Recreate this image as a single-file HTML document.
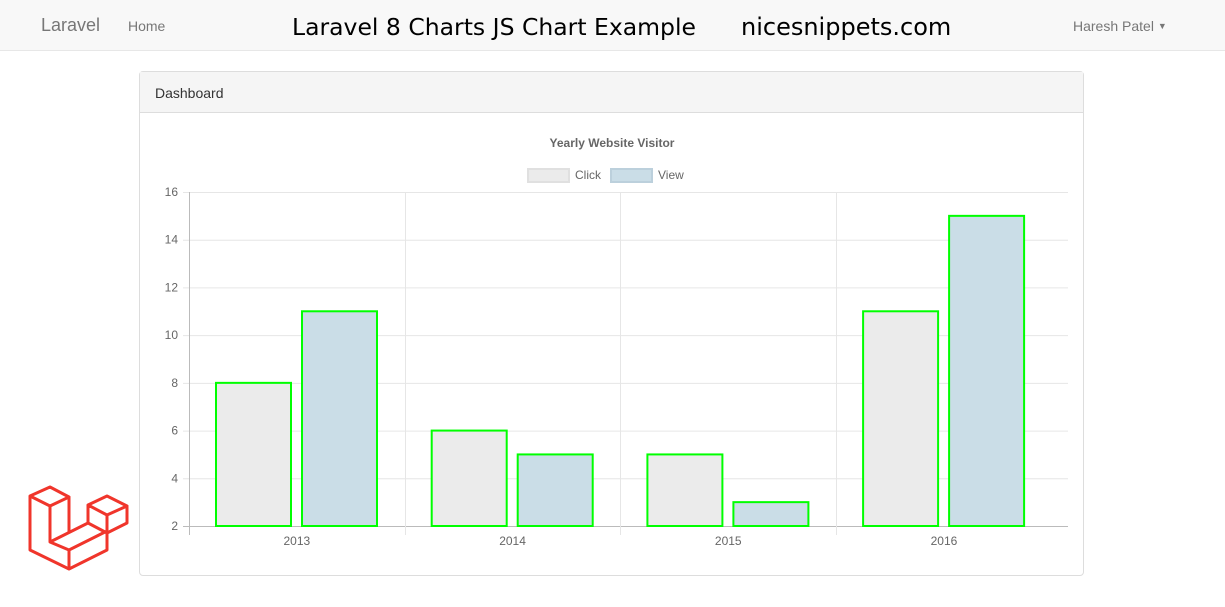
<!DOCTYPE html>
<html><head><meta charset="utf-8"><style>
body{margin:0;width:1225px;height:607px;background:#fff;font-family:"Liberation Sans",sans-serif;position:relative;overflow:hidden}
.nav{position:absolute;left:0;top:0;width:1225px;height:50px;background:#f8f8f8;border-bottom:1px solid #e7e7e7}
.nav span{position:absolute;color:#777}
.panel{position:absolute;left:139px;top:71px;width:943px;height:503px;border:1px solid #ddd;border-radius:4px}
.ph{height:40px;background:#f5f5f5;border-bottom:1px solid #ddd;font-size:14px;color:#333;line-height:42px;padding-left:15px}
</style></head><body>
<div class="nav">
<span style="left:41px;top:15px;font-size:18px">Laravel</span>
<span style="left:128px;top:18px;font-size:14px">Home</span>
<span style="left:292px;top:13px;font-size:23.5px;color:#000;font-family:'DejaVu Sans',sans-serif;white-space:nowrap">Laravel 8 Charts JS Chart Example</span>
<span style="left:741px;top:13px;font-size:24px;color:#000;font-family:'DejaVu Sans',sans-serif">nicesnippets.com</span>
<span style="left:1073px;top:18px;font-size:14px">Haresh Patel <span style="position:relative;font-size:9px;top:-2px;left:0">▼</span></span>
</div>
<div class="panel"><div class="ph">Dashboard</div></div>
<svg width="1225" height="607" style="position:absolute;left:0;top:0" id="chart">
<g fill="none" stroke="#f0352b" stroke-width="3" stroke-linejoin="round">
<path d="M30,496 L50,487 L69,497 L50,506 Z M30,496 L30,550 L69,569 L107,550 L107,531 M50,506 L50,542 L69,550 L107,531 M69,550 L69,569 M50,542 L88,523 M69,497 L69,532 M88,505 L107,496 L127,506 L107,515 Z M88,505 L88,523 L107,533 L127,523 L127,506 M107,515 L107,533"/>
</g>
</svg>
<script>
const categories=["2013","2014","2015","2016"];
const clickVals=[8,6,5,11];
const viewVals=[11,5,3,15];
const yTicks=[2,4,6,8,10,12,14,16];
const svg=document.getElementById('chart');const NS='http://www.w3.org/2000/svg';
const L=189,R=1068,T=192,B=526,ymin=2,ymax=16,CW=215.7;
const y=v=>B-(v-ymin)/(ymax-ymin)*(B-T);
const x=i=>L+i*CW;
function mk(t,a,txt){const e=document.createElementNS(NS,t);for(const k in a)e.setAttribute(k,a[k]);if(txt!==undefined)e.textContent=txt;svg.appendChild(e);return e;}
let e=mk('text',{x:612,y:147,'text-anchor':'middle','font-size':12,'font-weight':'bold',fill:'#666'},'Yearly Website Visitor');


e=mk('rect',{x:528,y:169,width:41,height:13,fill:'#ebebeb',stroke:'#e0e0e0','stroke-width':2});


e=mk('text',{x:575,y:179,'font-size':12,fill:'#666'},'Click');


e=mk('rect',{x:611,y:169,width:41,height:13,fill:'#cadde7',stroke:'#bcd0dc','stroke-width':2});


e=mk('text',{x:658,y:179,'font-size':12,fill:'#666'},'View');


yTicks.forEach(v=>{e=mk('line',{x1:L-6,x2:R,y1:y(v)+.5,y2:y(v)+.5,stroke:v===ymin?'#bbb':'#e6e6e6'});


e=mk('text',{x:178,y:y(v)+4,'text-anchor':'end','font-size':12,fill:'#666'},v);

});
for(let i=0;i<categories.length;i++){e=mk('line',{x1:Math.round(x(i))+.5,x2:Math.round(x(i))+.5,y1:T,y2:B+9,stroke:i===0?'#bbb':'#e6e6e6'});

}
categories.forEach((c,i)=>{
e=mk('text',{x:x(i)+CW/2,y:545,'text-anchor':'middle','font-size':12,fill:'#666'},c);


const bw=75;
e=mk('rect',{x:x(i)+27,y:y(clickVals[i]),width:bw,height:B-y(clickVals[i]),fill:'#ebebeb',stroke:'#00ff00','stroke-width':2});


e=mk('rect',{x:x(i)+113,y:y(viewVals[i]),width:bw,height:B-y(viewVals[i]),fill:'#cadde7',stroke:'#00ff00','stroke-width':2});


});
</script>
</body></html>
